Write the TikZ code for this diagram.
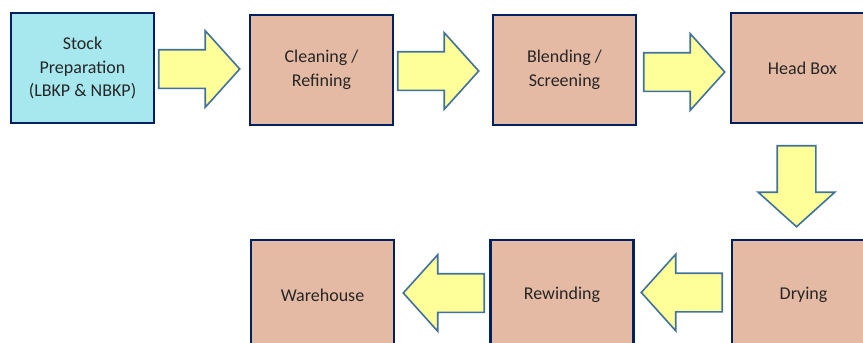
\documentclass[tikz,border=0pt]{standalone}
\usepackage{fontspec}
\setmainfont{Carlito}
\usetikzlibrary{shapes.arrows,calc}
\definecolor{boxline}{RGB}{0,32,96}
\definecolor{stockfill}{RGB}{167,232,239}
\definecolor{stagefill}{RGB}{229,186,164}
\definecolor{arrowfill}{RGB}{255,255,153}
\definecolor{arrowline}{RGB}{65,113,156}
\definecolor{labeltext}{RGB}{38,38,38}
\tikzset{
  stage/.style={draw=boxline,line width=2.4pt,fill=stagefill,minimum width=143pt,minimum height=110pt,
    align=center,text=labeltext,font=\fontsize{18}{23.5}\selectfont},
  blockarrow/.style={single arrow,draw=arrowline,line width=1.6pt,fill=arrowfill,inner xsep=0pt,inner ysep=18.5pt,
    minimum height=81pt,single arrow head extend=19pt,single arrow tip angle=96,anchor=tip}
}
\begin{document}
\begin{tikzpicture}[x=1pt,y=-1pt]
\useasboundingbox (0,0) rectangle (863,343);
% top row
\node[stage,fill=stockfill] (stock) at (82.5,68) {Stock\\Preparation\\(LBKP \& NBKP)};
\node[stage] (clean) at (321.5,70) {Cleaning /\\Refining};
\node[stage] (blend) at (564.5,70) {Blending /\\Screening};
\node[stage] (head) at (802.5,68) {Head Box};
% bottom row
\node[stage] (drying) at (803.5,295) {Drying};
\node[stage] (rewind) at (562,295) {Rewinding};
\node[stage] (ware) at (322.5,295) {Warehouse};
% block arrows, tip a few pt short of the next box
\node[blockarrow] (a1) at ($(clean.west)+(-8,-1)$) {};
\node[blockarrow] (a2) at ($(blend.west)+(-12,1)$) {};
\node[blockarrow] (a3) at ($(head.west)+(-4,4)$) {};
\node[blockarrow,rotate=270] (a4) at ($(drying.north)+(-7,-11)$) {};
\node[blockarrow,rotate=180] (a5) at ($(rewind.east)+(5.5,-2.5)$) {};
\node[blockarrow,rotate=180] (a6) at ($(ware.east)+(7,-2)$) {};
\end{tikzpicture}
\end{document}
